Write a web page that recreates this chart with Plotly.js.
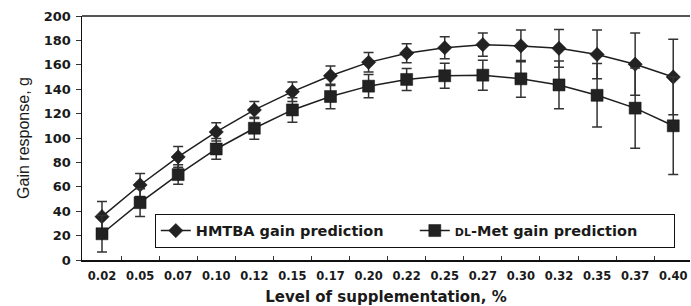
<!DOCTYPE html>
<html><head><meta charset="utf-8">
<script src="https://cdn.plot.ly/plotly-3.0.1.min.js"></script>
<style>body{margin:0;background:#fff}#c{width:691px;height:306px}</style>
</head><body><div id="c"></div>
<script>
const levels = ["0.02","0.05","0.07","0.10","0.12","0.15","0.17","0.20","0.22","0.25","0.27","0.30","0.32","0.35","0.37","0.40"];
const hmtbaGain = [35.5,61.5,84.5,105,123,138,151,162,169.5,174,176.5,175.5,173.5,168.5,160.5,150];
const hmtbaErr  = [12.5,9.5,8.5,7.5,7,8,8,8,7.8,9,9.5,13,15.5,20,25.5,31];
const dlmetGain = [21.5,47,70,91,108,123,134,142.5,148,151,151.5,148.5,143.5,135,124.5,110];
const dlmetErr  = [15,11.3,8,8.5,9,10,10,9.6,9,10.3,12.3,15,19.6,26,32.8,40];
const yTicks = [0,20,40,60,80,100,120,140,160,180,200];

const lineCol = '#1e1e1e';
const traces = [
  {x: levels, y: hmtbaGain, name: 'HMTBA gain prediction', type: 'scatter', mode: 'lines+markers',
   line: {color: lineCol, width: 1.5},
   marker: {symbol: 'diamond', size: 11, color: '#222', line: {color: '#111', width: 0.5}},
   error_y: {type: 'data', array: hmtbaErr, visible: true, color: '#333', thickness: 1.5, width: 5}},
  {x: levels, y: dlmetGain, name: '<span style="font-size:11px">DL</span>-Met gain prediction', type: 'scatter', mode: 'lines+markers',
   line: {color: lineCol, width: 1.5},
   marker: {symbol: 'square', size: 12, color: '#222', line: {color: '#111', width: 0.5}},
   error_y: {type: 'data', array: dlmetErr, visible: true, color: '#333', thickness: 1.5, width: 5}}
];

const layout = {
  width: 691, height: 306,
  margin: {l: 82, r: 1, t: 16, b: 46},
  paper_bgcolor: '#fff', plot_bgcolor: '#fff',
  font: {family: 'DejaVu Sans', color: '#1a1a1a'},
  showlegend: true,
  legend: {orientation: 'h', x: 0.975, xanchor: 'right', y: 0.19, yanchor: 'top',
           bordercolor: '#111', borderwidth: 1, bgcolor: '#fff',
           font: {family: 'DejaVu Sans', size: 14.5, color: '#1a1a1a', weight: 'bold'},
           itemwidth: 30, entrywidth: 214, tracegroupgap: 0},
  xaxis: {type: 'category', range: [-0.525, 15.44], fixedrange: true,
          showgrid: false, zeroline: false, showline: true, linecolor: '#111', linewidth: 1.5,
          ticks: 'inside', ticklen: 4, tickcolor: '#333', tickson: 'boundaries',
          ticklabelstandoff: 5,
          tickfont: {family: 'DejaVu Sans', size: 11.5, color: '#1a1a1a', weight: 'bold'},
          title: {text: 'Level of supplementation, %', standoff: 9,
                  font: {family: 'DejaVu Sans', size: 15, color: '#1a1a1a', weight: 'bold'}}},
  yaxis: {range: [0, 200], tickvals: yTicks, fixedrange: true,
          showgrid: false, zeroline: false, showline: true, linecolor: '#111', linewidth: 1.5,
          ticks: 'outside', ticklen: 5, tickcolor: '#333', ticklabelstandoff: 2,
          tickfont: {family: 'DejaVu Sans', size: 13, color: '#1a1a1a', weight: 'bold'},
          title: {text: 'Gain response, g', standoff: 10,
                  font: {family: 'Liberation Sans', size: 16, color: '#1a1a1a'}}},
  shapes: [{type: 'line', xref: 'paper', yref: 'paper', x0: 0, x1: 1, y0: 1, y1: 1,
            line: {color: '#555', width: 2}}]
};
Plotly.newPlot('c', traces, layout, {displayModeBar: false, staticPlot: true});
</script></body></html>
